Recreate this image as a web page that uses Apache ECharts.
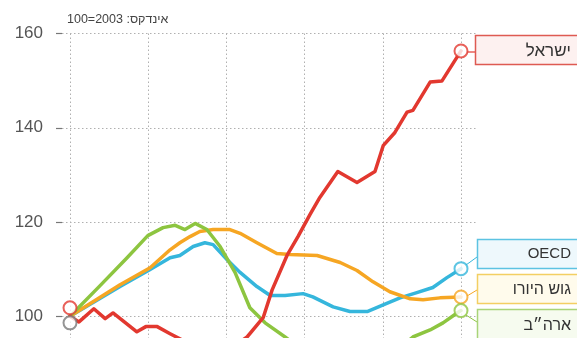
<!DOCTYPE html>
<html><head><meta charset="utf-8">
<script src="https://cdn.jsdelivr.net/npm/echarts@6/dist/echarts.min.js"></script>
<style>html,body{margin:0;padding:0;background:#fff}#c{width:577px;height:338px}</style>
</head><body><div id="c"></div>
<script>
// [year, index value] — index 2003 = 100
const israel = [[2003.00,100],[2003.23,98.8],[2003.61,101.6],[2003.90,99.5],[2004.10,100.7],[2004.71,96.7],[2004.94,97.8],[2005.23,97.8],[2005.56,96.3],[2005.86,95.0],[2006.30,93.0],[2006.80,92.5],[2007.25,94.0],[2007.53,95.6],[2007.94,99.7],[2008.17,105.6],[2008.55,112.9],[2008.83,116.9],[2009.14,121.6],[2009.39,125.2],[2009.85,130.7],[2010.34,128.4],[2010.80,130.7],[2011.01,136.2],[2011.31,139.0],[2011.62,143.3],[2011.77,143.7],[2012.21,149.7],[2012.51,149.9],[2013.00,156.3]];
const usa = [[2003.00,100],[2003.77,106.5],[2004.46,112.4],[2004.99,117.1],[2005.38,118.8],[2005.69,119.3],[2005.94,118.4],[2006.20,119.7],[2006.50,118.4],[2006.84,114.8],[2007.22,109.3],[2007.60,101.8],[2007.99,98.6],[2008.50,95.6],[2009.00,92.5],[2009.50,91.0],[2010.00,90.5],[2010.50,90.0],[2011.00,90.5],[2011.40,93.0],[2011.77,95.6],[2012.21,97.1],[2012.54,98.6],[2012.90,100.7],[2013.00,101.2]];
const oecd = [[2003.00,100],[2004.28,106.3],[2005.05,109.9],[2005.56,112.4],[2005.81,112.9],[2006.15,114.8],[2006.45,115.6],[2006.66,115.2],[2007.02,112.0],[2007.35,109.3],[2007.78,106.3],[2008.12,104.4],[2008.50,104.4],[2008.96,104.8],[2009.21,104.1],[2009.73,102.0],[2010.16,101.0],[2010.60,101.0],[2011.01,102.4],[2011.44,103.9],[2011.87,105.0],[2012.28,106.1],[2012.64,108.2],[2013.00,110.1]];
const euro = [[2003.00,100],[2004.28,106.7],[2005.05,110.3],[2005.56,114.1],[2005.81,115.6],[2006.07,116.9],[2006.32,118.0],[2006.66,118.4],[2007.09,118.4],[2007.35,117.6],[2007.78,115.6],[2008.29,113.3],[2008.63,113.1],[2009.32,112.9],[2009.91,111.4],[2010.34,109.7],[2010.75,107.3],[2011.18,105.2],[2011.70,103.7],[2012.03,103.5],[2012.46,103.9],[2013.00,104.1]];
const startMarks = [[2003, 101.8], [2003, 98.6]];
const yTicks = [80, 100, 120, 140, 160];
const names = ['ישראל', 'OECD', 'גוש היורו', 'ארה״ב'];
const titleText = 'אינדקס: 2003=100';

const C = {red:'#e2382f', green:'#8dc540', cyan:'#35b6dc', orange:'#f6a623', gray:'#7a7a7a'};
const TOP = 33.5, H = 377;
const grid = '#b0b0b0';
const dot = [1.5, 2.5];

function lineSeries(data, color, z) {
  return {type:'line', xAxisIndex:1, yAxisIndex:1, data, symbol:'none', showSymbol:false,
    lineStyle:{width:3.5, color, cap:'round', join:'round'}, z, silent:true, animation:false};
}
function circle(pt, color) {
  return {value: pt, itemStyle:{color:'#fff', borderColor: color, borderWidth:2}};
}
const last = a => a[a.length - 1];

const chart = echarts.init(document.getElementById('c'));
chart.setOption({
  animation:false,
  grid:[{left:62, width:415, top:TOP, height:H, outerBoundsMode:'none', containLabel:false},
        {left:70, width:391, top:TOP, height:H, outerBoundsMode:'none', containLabel:false}],
  xAxis:[
    {gridIndex:0, type:'value', min:0, max:1, show:false},
    {gridIndex:1, type:'value', min:2003, max:2013, interval:2,
      axisLine:{show:false}, axisTick:{show:false}, axisLabel:{show:false},
      splitLine:{show:true, lineStyle:{type:dot, color:grid, width:1}}}
  ],
  yAxis:[
    {gridIndex:0, type:'value', min:yTicks[0], max:yTicks[yTicks.length-1], interval:20,
      axisLine:{show:false}, axisTick:{show:true, length:6, lineStyle:{color:'#777', width:1.2}},
      axisLabel:{margin:19, color:'#555', fontSize:17, fontFamily:'Liberation Sans'},
      splitLine:{show:true, lineStyle:{type:dot, color:grid, width:1}}},
    {gridIndex:1, type:'value', min:yTicks[0], max:yTicks[yTicks.length-1], show:false}
  ],
  series:[
    lineSeries(oecd, C.cyan, 2),
    lineSeries(euro, C.orange, 3),
    lineSeries(usa, C.green, 4),
    lineSeries(israel, C.red, 5),
    {type:'scatter', xAxisIndex:1, yAxisIndex:1, symbol:'circle', symbolSize:13, z:10, silent:true,
      data:[circle(startMarks[0], C.red), circle(startMarks[1], C.gray),
            circle(last(israel), C.red), circle(last(oecd), C.cyan),
            circle(last(euro), C.orange), circle(last(usa), C.green)]}
  ],
  graphic:[
    {type:'text', left:67, top:13, style:{text:titleText, font:'12.5px "Liberation Sans"', fill:'#444'}},
    // connectors
    {type:'line', shape:{x1:467, y1:52, x2:475, y2:52}, style:{stroke:C.red, lineWidth:1.2}},
    {type:'line', shape:{x1:466, y1:265, x2:477, y2:257}, style:{stroke:C.cyan, lineWidth:1}},
    {type:'line', shape:{x1:467, y1:296, x2:477, y2:290}, style:{stroke:C.orange, lineWidth:1}},
    {type:'line', shape:{x1:466, y1:315, x2:477, y2:322}, style:{stroke:C.green, lineWidth:1}},
    // boxes
    {type:'rect', shape:{x:475.5, y:35.5, width:120, height:29}, style:{fill:'#fdf1f0', stroke:'#de5a52', lineWidth:1.5}},
    {type:'rect', shape:{x:477.5, y:239.5, width:120, height:29}, style:{fill:'#eef8fc', stroke:'#5dc3e2', lineWidth:1.5}},
    {type:'rect', shape:{x:477.5, y:274.5, width:120, height:29}, style:{fill:'#fffbec', stroke:'#f3cf63', lineWidth:1.5}},
    {type:'rect', shape:{x:477.5, y:309.5, width:120, height:40}, style:{fill:'#f6fbef', stroke:'#a9d478', lineWidth:1.5}},
    // labels
    {type:'text', x:571, y:51, style:{text:names[0], align:'right', verticalAlign:'middle', font:'17px "Liberation Sans"', fill:'#333'}},
    {type:'text', x:571, y:254, style:{text:names[1], align:'right', verticalAlign:'middle', font:'15px "Liberation Sans"', fill:'#333'}},
    {type:'text', x:571, y:290, style:{text:names[2], align:'right', verticalAlign:'middle', font:'16px "Liberation Sans"', fill:'#333'}},
    {type:'text', x:571, y:326, style:{text:names[3], align:'right', verticalAlign:'middle', font:'16px "Liberation Sans"', fill:'#333'}}
  ]
});
</script></body></html>
